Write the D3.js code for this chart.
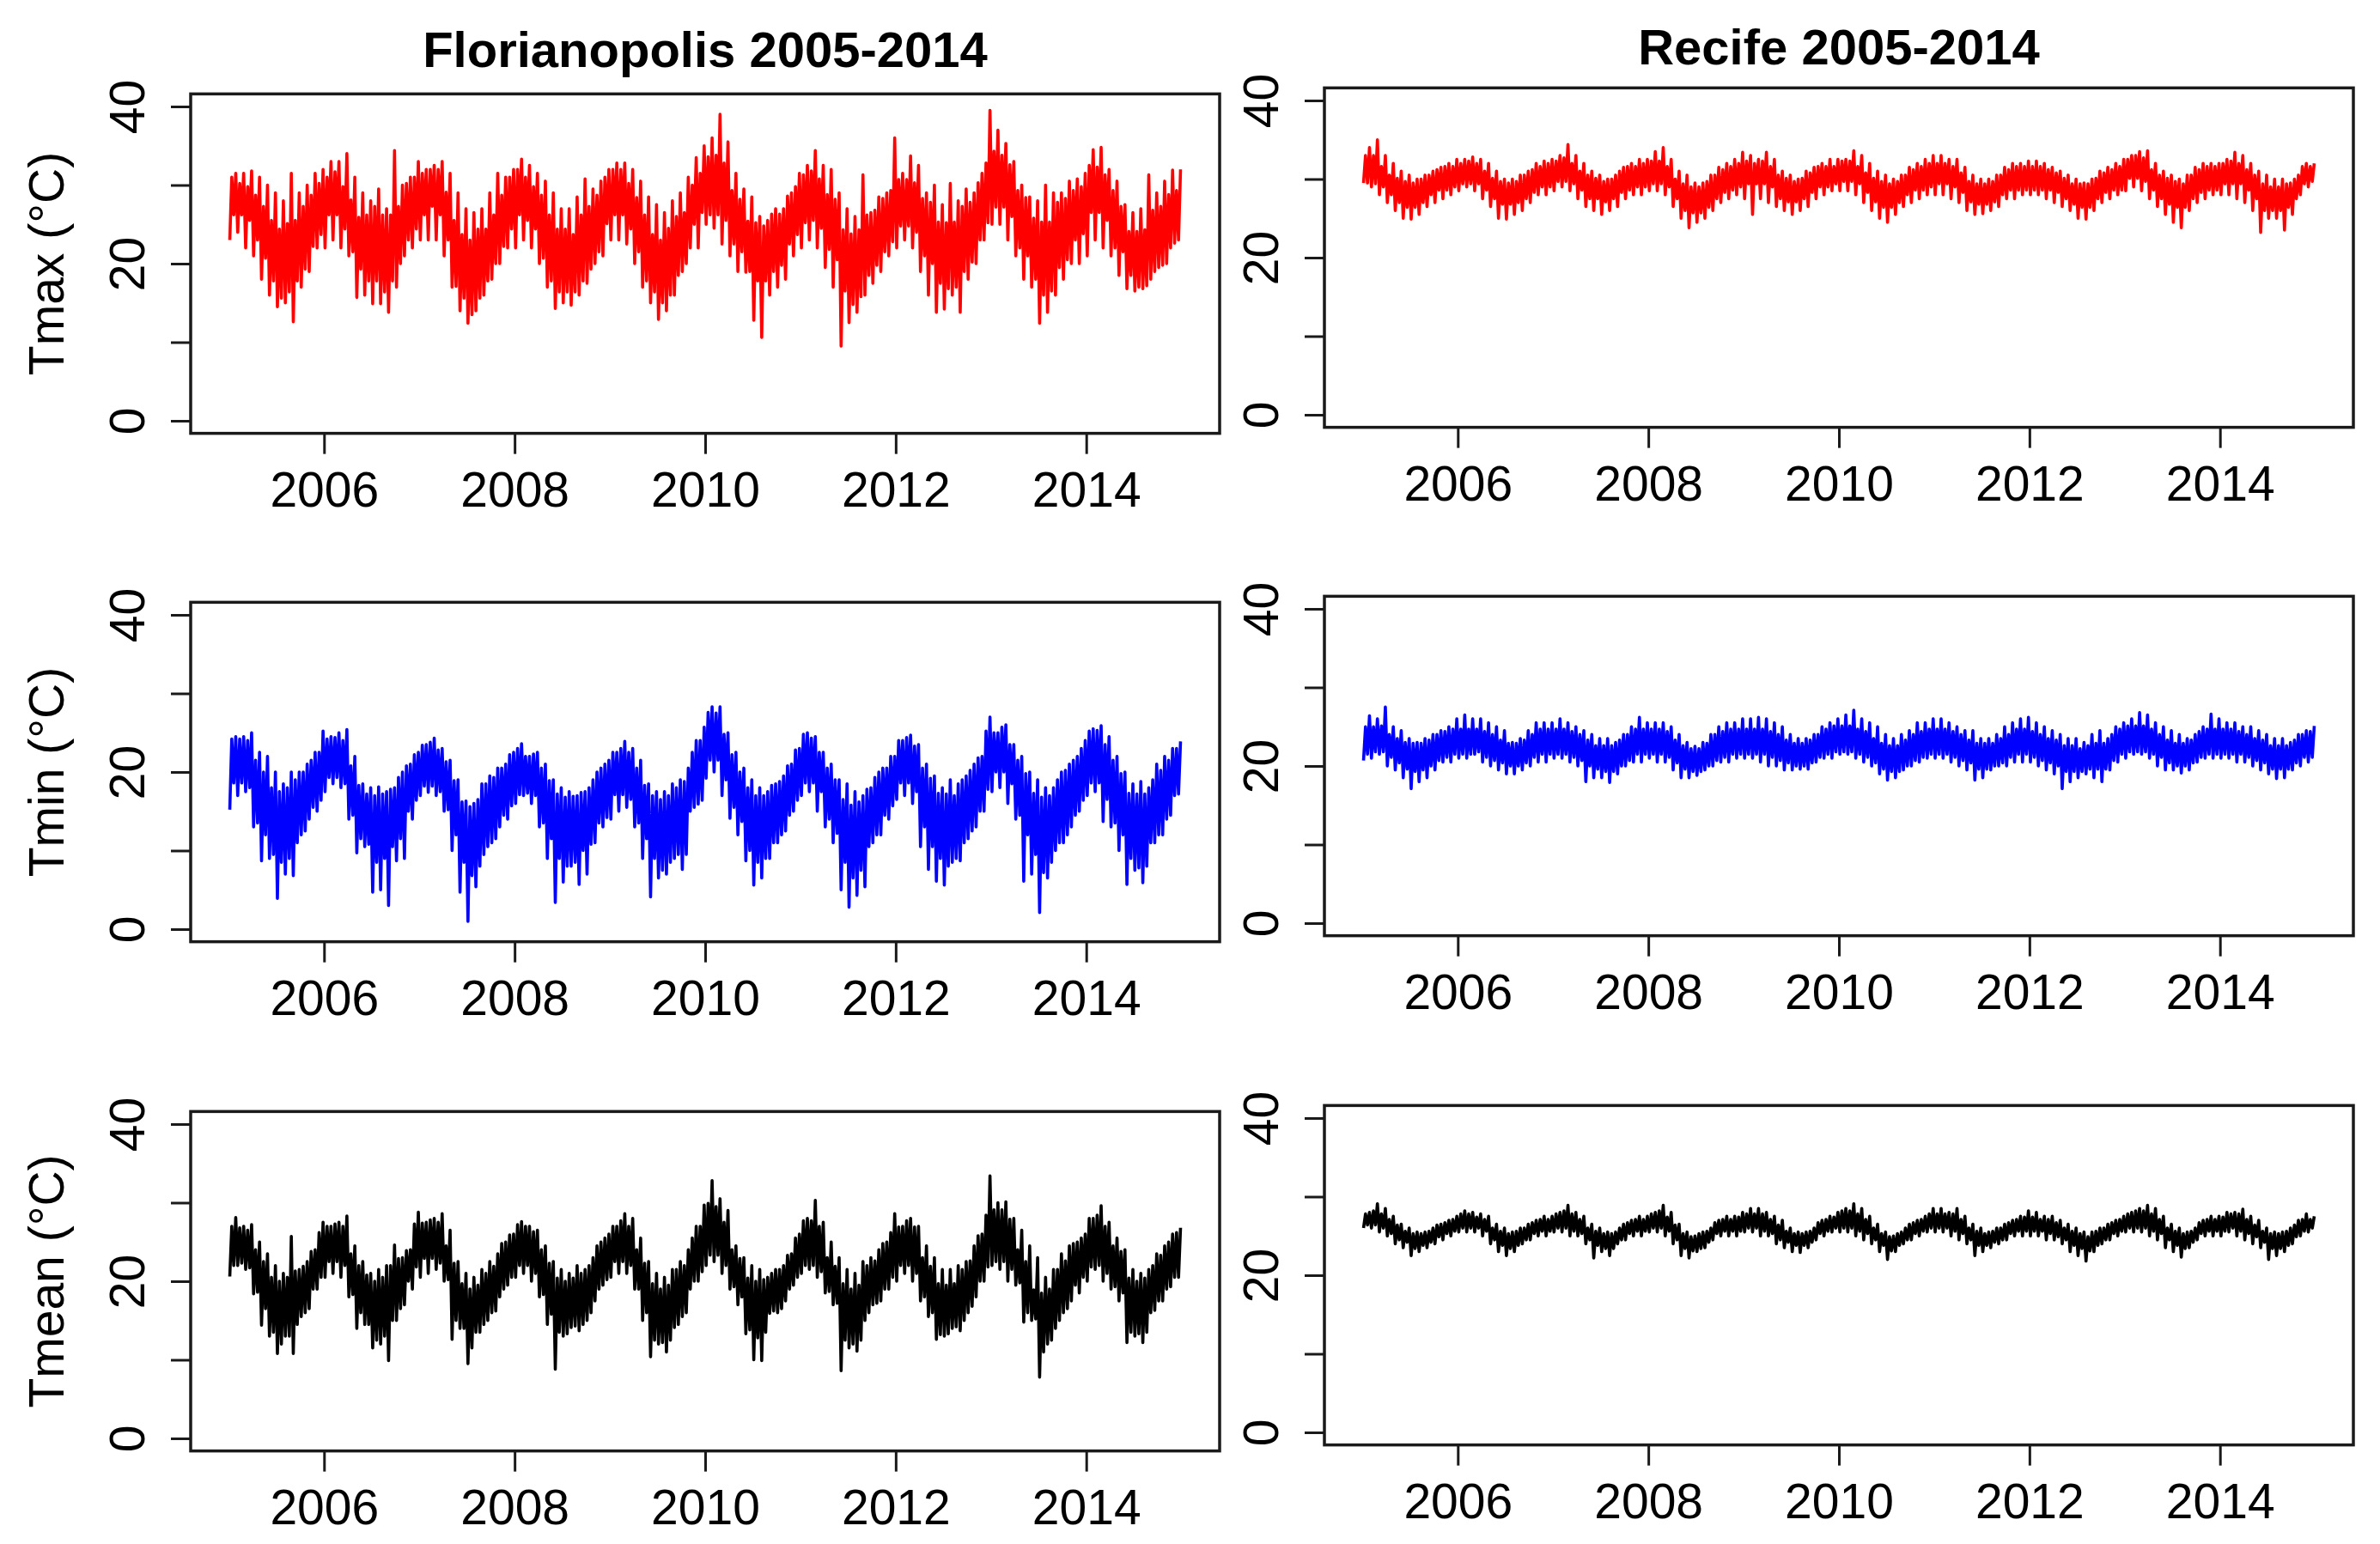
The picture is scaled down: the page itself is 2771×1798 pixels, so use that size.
<!DOCTYPE html>
<html>
<head>
<meta charset="utf-8">
<script src="https://cdn.jsdelivr.net/npm/d3@7"></script>
<style>
    body { margin: 0; background: #fff; }
    svg text { font-family: "Liberation Sans", Arial, sans-serif; fill: #000; }
</style>
</head>
<body>
<svg id="chart" width="2771" height="1798"></svg>
<script>
// Daily series summarised per month (°C), Jan 2005 .. Dec 2014, one year per line.
// Lo / Hi = extreme days of the month, CoreLo / CoreHi = edges of the dense band.

// Florianopolis Tmax
var flnTmaxLo = [
    23, 24, 22, 21, 18, 16, 14.5, 15, 12.6, 17, 19, 22,
    22, 23, 22, 21, 15.7, 16, 14.9, 14.9, 13.8, 17, 21, 22,
    23, 23, 23, 21, 17, 14, 12.4, 14, 16, 18, 20, 22,
    22, 23, 22, 20, 17, 14.3, 15, 14.7, 16, 17.5, 20, 21,
    23, 23, 22.5, 20, 17, 15, 12.9, 14, 16, 19, 22, 22,
    25, 24.5, 22.5, 21, 19, 18.9, 12.8, 10.6, 16, 17, 18, 21,
    22, 23, 22, 19.5, 17, 9.5, 12.5, 13.8, 16, 17.5, 19, 21,
    22, 23, 22, 19, 16, 13.8, 14.2, 16, 13.8, 18, 20, 23,
    25, 25, 23, 21, 18, 17, 12.4, 13.8, 16, 18, 20, 20,
    21, 23, 22, 21, 18.5, 16.8, 16.5, 16.8, 18, 19.5, 20, 22.6
];
var flnTmaxHi = [
    31.5, 31.5, 31.8, 31, 30, 29, 28, 31.5, 29, 30, 31.5, 32,
    33, 33, 34, 31, 29, 28, 29.5, 27, 34.4, 30, 31, 33,
    32, 32.5, 33, 31.5, 29, 27, 26.5, 27, 29, 31.5, 31, 32,
    33.3, 32.5, 31.5, 30.5, 29, 27, 27, 28.5, 30.8, 29.5, 30.5, 32,
    32.8, 32.8, 32, 30.5, 28.5, 27.5, 26.5, 28, 29, 31, 33.5, 35,
    36, 39, 35.5, 31.5, 29.5, 28.5, 26, 25.5, 27, 27, 29, 31.5,
    32.5, 34.4, 32.5, 32, 29, 27, 26, 31.3, 26.5, 28.5, 29, 36,
    31.5, 33.7, 32.5, 29, 30, 27.5, 30.2, 28, 29.5, 29, 31.5, 39.5,
    37, 35.3, 33, 30, 28.5, 28, 30, 29, 29, 30.5, 30.8, 31.5,
    34.5, 34.8, 32, 30.5, 27.5, 26.5, 27, 31.3, 29, 30.5, 31.9, 32
];
var flnTmaxCoreLo = [
    26.2, 26.2, 25.5, 23, 20.7, 17.8, 15.6, 16.4, 17.8, 19.3, 22.2, 23.7,
    26.2, 26.2, 24.4, 21.5, 19.3, 17.8, 17.8, 16.4, 17.8, 20, 23, 24.4,
    26.2, 27.3, 26.2, 23, 17.1, 15.6, 13.5, 15.6, 17.8, 20, 22.2, 24.4,
    26.2, 25.5, 24.4, 20.7, 17.8, 16.4, 16.4, 16.4, 17.8, 19.3, 21.5, 25.1,
    26.2, 26.2, 24.4, 21.5, 17.8, 16.4, 15, 16, 18.5, 20, 25, 26.5,
    26.2, 26.2, 25.5, 22.5, 21.5, 19, 17.8, 17.8, 19, 19.8, 22.5, 23.7,
    25.2, 25.5, 24.5, 21.8, 20.5, 16.5, 14.8, 15.8, 18.5, 19.8, 21.5, 22.8,
    24.8, 24.8, 24, 21, 20, 17.5, 16.8, 17, 19, 20.2, 23, 25.2,
    27.2, 27.2, 26, 22, 21, 18, 16, 16.5, 19.5, 20.5, 23, 23.8,
    26.5, 26.5, 25.5, 22, 21.5, 18.5, 17, 17.2, 19, 19.8, 22, 23
];
var flnTmaxCoreHi = [
    31, 30.2, 29.8, 28.7, 27.3, 25.5, 24.4, 25.1, 25.5, 27.3, 28.7, 30.2,
    31, 31.7, 29.8, 28.1, 25.9, 26.2, 27.3, 26.2, 26.2, 27.3, 30.2, 31,
    31.5, 32, 32, 29.1, 25.5, 23.7, 23, 24.4, 24.4, 26.2, 28.7, 31,
    32, 31, 29.8, 28.7, 26.2, 24.4, 24.4, 23.7, 26.2, 27.3, 28.7, 31,
    32, 32, 30.2, 28.4, 26.2, 23.7, 23, 24.5, 26, 26.5, 30, 31.5,
    33.6, 33.8, 32.8, 29.3, 28.2, 25.4, 25.2, 24.8, 26.3, 26.3, 28.6, 29.8,
    31.3, 31.8, 30.8, 28.8, 28.2, 24.3, 23.8, 24.3, 26.2, 26.8, 28.3, 29.3,
    30.7, 30.7, 30.3, 28.3, 27.8, 25.3, 25.2, 25.3, 27.3, 27.8, 30.3, 32.8,
    34.3, 33.8, 32.6, 29.3, 28.4, 25.8, 25.3, 25.3, 27.8, 28.3, 29.3, 29.8,
    32.5, 32.3, 31.3, 29.3, 27.3, 24.1, 24.1, 24.3, 26.8, 27.3, 28.8, 29.3
];

// Florianopolis Tmin
var flnTminLo = [
    15.2, 17, 17.5, 13, 8.7, 9, 3.9, 7, 6.8, 12, 14, 15,
    17.5, 18.5, 18, 14, 9.7, 10.5, 4.7, 5, 3, 8.7, 9, 14,
    17, 17.4, 17, 15, 10, 4.7, 1, 5.4, 9.5, 11, 13, 14,
    16, 17, 16, 13, 9, 3.4, 6, 8, 5.7, 7, 11, 13,
    14, 15, 15.5, 13, 9, 4.1, 6.5, 7, 9, 7.6, 15, 15.9,
    19.2, 20, 17, 14.1, 12, 8.7, 5.6, 6.5, 9, 11, 12.5, 15,
    17, 17.5, 15, 13, 11, 5, 2.8, 4.3, 5.4, 11, 12, 14,
    16.5, 17, 16, 10.5, 7.6, 6.1, 5.6, 8.5, 8.7, 11.5, 13, 15,
    17.5, 18, 16, 14, 6.1, 7, 2.1, 6.5, 10, 11, 13, 15,
    17, 17.5, 13.7, 13, 10, 5.7, 7.5, 5.9, 11, 12, 14, 17
];
var flnTminHi = [
    24.5, 24.5, 25, 22.5, 22, 20, 18.5, 20, 20, 21, 22.5, 25.2,
    24.5, 25, 25.4, 22, 18.5, 18, 18.1, 17.5, 18, 20, 21, 22.5,
    23.5, 24.3, 23, 21.5, 19, 16.3, 16, 18.5, 19.5, 20.5, 21, 22.5,
    23.6, 22, 22.5, 21, 19, 18, 17.5, 17, 17.5, 19, 20.5, 21.5,
    22.5, 23.9, 23, 21.5, 18.5, 17.5, 17.5, 18.5, 19, 20.5, 24, 25.7,
    28.3, 28.3, 25, 22.5, 20.5, 19, 18, 17.5, 18.5, 19.5, 21, 23,
    25, 24.5, 22.5, 21, 19, 18.5, 17.5, 17, 18, 20, 20.5, 22,
    24, 24.7, 23.5, 21, 19.5, 18, 19, 18.5, 19.5, 21, 22, 27,
    25, 26, 23.5, 22, 20, 19, 18, 18, 20, 21, 22, 24,
    25.5, 25.9, 24.5, 22, 20, 18.5, 18.8, 18, 21, 22, 23, 23.9
];
var flnTminCoreLo = [
    18.6, 18.6, 18, 13.5, 12, 9.5, 8.5, 9, 11, 12.5, 15.5, 16.4,
    19.3, 19.3, 18.5, 14.5, 11.5, 10.8, 8.5, 9, 10.5, 11.5, 15, 16.4,
    18.2, 18.2, 17.5, 15.2, 12, 8.5, 6.8, 8, 10.5, 11.5, 14.5, 15.7,
    17.1, 17.3, 17, 13.5, 11.5, 9, 8, 8.5, 10, 10.8, 13.5, 14.2,
    17.1, 17.1, 16.5, 13.5, 11.5, 9, 7.5, 8.5, 9.5, 9.5, 15.5, 16.4,
    21.5, 21.5, 19, 15.5, 13.7, 10, 8.5, 9, 11, 12, 14.5, 16.4,
    18.6, 18.6, 17.5, 14, 12.2, 8.5, 6.5, 7.5, 10.5, 12, 14.5, 15.7,
    18.6, 18.6, 17.5, 13, 10.5, 9, 8, 9, 11, 12.5, 15, 17.8,
    20, 20, 18.5, 14.5, 12, 9.5, 7.2, 8.5, 11, 12, 14.5, 16.4,
    18.6, 18.6, 16.5, 13.5, 12, 9, 7.8, 8, 11, 12, 14.5, 17.2
];
var flnTminCoreHi = [
    24.2, 24.2, 24, 21.5, 20, 18, 17.5, 18, 19, 20, 21.5, 22.5,
    24.2, 24.4, 24, 20.8, 18.3, 17.2, 17, 17.2, 17.8, 19.3, 20.8, 22.2,
    23.4, 23.8, 22.8, 21.3, 18.9, 16.2, 15.6, 16.5, 18.5, 19.3, 20.5, 22.2,
    23, 22, 22.3, 20.5, 18.9, 17.2, 16.8, 16.9, 17.4, 18, 20, 21,
    22.5, 23, 22.5, 20.5, 18.3, 17, 16.5, 17, 18, 18.8, 22.5, 24,
    27.6, 27.5, 24.8, 22.2, 20, 18, 17, 17, 18.3, 18.8, 20.8, 22.8,
    24.8, 24.3, 22.5, 20.5, 19, 16.5, 15.8, 16.2, 17.8, 19.3, 20.5, 22,
    24, 24.4, 23.3, 20.5, 19.2, 17.3, 17.2, 17, 19, 20.2, 21.8, 25.2,
    25, 25.7, 23.5, 21.5, 19.8, 17.3, 16.8, 17, 19, 20.2, 21.5, 23,
    25.2, 25.3, 23.5, 21.5, 19.8, 17.3, 17.2, 17.2, 19, 20.2, 21.5, 23
];

// Florianopolis Tmean
var flnTmeanLo = [
    20.6, 22, 21.5, 18.4, 14.4, 13, 10.8, 13, 10.8, 15.5, 16.5, 19,
    20.5, 21, 20.5, 18, 14, 14.5, 11.5, 12, 9.9, 15, 17, 19,
    20.5, 21, 21.5, 20, 12.6, 14, 9.5, 13.5, 14.5, 16, 18, 19.5,
    20.5, 21, 20, 18, 14.5, 8.8, 13, 14.1, 13.7, 15, 17.5, 19.5,
    20.5, 21, 21, 19, 15, 10.4, 12, 11, 14.1, 15.5, 19, 20,
    22, 22.5, 21, 19, 17, 13.3, 10, 9.9, 15.9, 16, 17.5, 19.5,
    21, 21.5, 20.5, 18.5, 17, 8.6, 11.5, 11.1, 15, 17, 17.5, 19,
    20, 21, 20, 17.5, 15.5, 12.6, 13, 14, 13.7, 16, 18, 20,
    22, 21.5, 20, 19.5, 14.8, 15, 7.8, 12, 14, 16, 17.5, 18.5,
    20, 21.5, 20, 19, 17.5, 12.2, 13, 12.2, 16, 17.5, 19, 20.5
];
var flnTmeanHi = [
    28.1, 27, 27.2, 25, 23.5, 22, 21, 25.7, 21.5, 22.5, 24, 27.5,
    27, 27.5, 28.3, 24.5, 22.5, 21, 21.5, 22, 24.6, 23, 24, 28.8,
    27.5, 28, 28.6, 26.5, 22.5, 21, 20.5, 21.5, 22.5, 23.5, 25, 26,
    27.6, 27, 26.5, 24.5, 22.5, 21.5, 21, 22, 21.5, 23, 25, 26,
    27, 28.6, 28, 25.5, 22.5, 21, 20.5, 21.5, 22.5, 24, 27, 29.7,
    32.8, 30.5, 29, 24.5, 23, 22, 21.5, 20.5, 21.5, 22, 23.5, 26,
    28, 30.3, 27.5, 25, 23, 21.5, 21, 22.5, 23, 24, 25, 28.6,
    27, 28, 27, 24.5, 23, 21.5, 21.5, 22, 22.5, 24.5, 26, 33.4,
    30, 30.1, 28, 26.5, 24.5, 23, 20.5, 21.5, 23.5, 24.5, 25, 26,
    28, 29.6, 27.5, 25.5, 24, 21.5, 21, 21.5, 23.5, 24.5, 26, 26.8
];
var flnTmeanCoreLo = [
    22, 22.3, 21.7, 18.6, 16.5, 13.5, 12, 13, 14.5, 16, 19, 20.5,
    22.5, 22.5, 22, 18.3, 16, 14.5, 12.5, 13, 15, 16.5, 20, 21.8,
    22.9, 22.9, 22.3, 20.2, 15, 14, 11.5, 13.5, 15, 16.2, 19, 20.5,
    22, 22, 21, 18.3, 15.8, 13.5, 13.3, 14.3, 14.5, 16, 19, 20.2,
    22.5, 22.5, 22, 19, 16, 12.5, 12.2, 12.5, 14.5, 16, 20, 21.2,
    23.3, 23.3, 22, 19.3, 18, 13.8, 12.8, 13.5, 16.2, 16.5, 19, 20.5,
    22, 22, 21.2, 18.7, 17.2, 12.5, 12, 12.5, 16, 17.2, 19, 20.5,
    22, 22, 21, 18, 16, 13.2, 13.3, 14.2, 15, 16.8, 20, 21.8,
    22.5, 22.5, 21.5, 19.8, 16, 15.2, 11, 12.5, 15, 16.5, 19.5, 20.5,
    21.8, 22, 21, 19.3, 18.5, 13.5, 13.3, 13.5, 16.3, 17.5, 19.3, 20.5
];
var flnTmeanCoreHi = [
    27, 26.8, 26.5, 24, 22.5, 20.5, 20, 20.5, 21.3, 21.9, 23.8, 26.2,
    27, 27.3, 27, 23.5, 22, 20.8, 20, 20.5, 22, 22.9, 23.9, 27.3,
    27.4, 27.8, 27.5, 24.5, 22.3, 19.7, 19, 19.5, 21, 21.9, 24.8, 25.9,
    27.2, 27, 26.3, 24, 22.3, 20.4, 20, 20.4, 21, 22, 24.5, 25.5,
    27, 27.7, 27, 24, 22.3, 19.7, 19, 19.5, 21.5, 22, 25.5, 27,
    29.9, 29.5, 27.5, 24, 22.9, 20.4, 20, 20.2, 21, 21.5, 23.3, 25.5,
    27.7, 27.7, 27, 23, 21.9, 19.7, 19, 19.5, 22, 22.6, 24.8, 26.2,
    26.9, 27.7, 26.9, 23, 21.9, 19.7, 19.5, 19.7, 21.5, 22.6, 25.8, 28.4,
    29.1, 29.1, 27.9, 24, 22.5, 18.9, 18.5, 19, 21.5, 22.6, 24.8, 25.5,
    28, 28.4, 27, 24.5, 23.8, 20.4, 20, 20.4, 22, 23.3, 25, 26.2
];

// Recife Tmax
var rcfTmaxLo = [
    29.5, 29, 28, 27, 26, 25, 24.9, 25.5, 26.5, 27, 27.5, 28,
    28.5, 29, 28.5, 27.5, 26.5, 25, 24.9, 25.5, 26, 27, 28, 28,
    28.5, 29, 28.5, 27.5, 26.5, 26, 25.5, 26, 26.5, 27.5, 28, 28,
    28.5, 28.5, 28, 26.5, 25, 23.8, 24.5, 25, 26, 27, 27.5, 28,
    27.5, 25.5, 27.5, 27, 26.5, 26, 25.5, 26, 26.5, 27.5, 28, 28.5,
    28.5, 28.5, 28, 27, 26, 25, 24.5, 25.5, 26.5, 27, 27.5, 28,
    28, 28, 27.5, 27, 26, 25.5, 25.6, 26, 26.5, 27.5, 27.5, 28,
    28, 28, 27.5, 27, 26.5, 26, 25, 24.9, 26, 27, 27.5, 28,
    28.5, 29, 28.5, 27.5, 26.5, 25.5, 24.5, 23.8, 26, 27, 27.5, 28,
    28, 28, 27.5, 27, 26, 23.2, 25, 25, 23.5, 25.5, 28, 29
];
var rcfTmaxHi = [
    34, 35, 33, 32, 31, 30.5, 30, 30.5, 31, 31.5, 32, 32.5,
    32.5, 32.8, 32.5, 32, 31, 30, 30, 30.5, 31, 32, 32.3, 32.5,
    33, 34.4, 33, 32, 31, 30.5, 30, 30.5, 31.5, 32, 32.5, 32.5,
    33.5, 34, 32.5, 31, 30.5, 29.5, 29.5, 30.5, 31.5, 32, 32.5, 33.4,
    33, 32.5, 33.4, 32.5, 31, 30.5, 30, 31, 31.5, 32, 32.5, 32.5,
    32.5, 33.6, 33, 32, 31, 30.5, 30, 30.5, 31.5, 32, 32.5, 33,
    33, 32.5, 32.5, 31.5, 30.5, 30, 30, 30.5, 31.5, 32, 32, 32.3,
    32.3, 32, 31.5, 31, 30.5, 30, 29.5, 30, 31, 31.5, 32, 32.5,
    33, 33.5, 33.6, 32, 31, 30.5, 30, 30.5, 31.5, 32, 32, 32,
    32.5, 33.4, 33, 32, 31, 30.5, 30, 30, 29.5, 30.5, 32, 32
];
var rcfTmaxCoreLo = [
    29.5, 29.4, 29, 28, 27, 26.4, 26.4, 27, 28, 28.6, 28.6, 29,
    29.4, 29.4, 29.4, 28.6, 27.5, 26.8, 26.8, 27, 27.5, 28.3, 29, 29,
    29.7, 29.7, 29.4, 28.6, 27.5, 27.5, 27.1, 27.5, 28.3, 28.6, 29, 29,
    29.4, 29.4, 29, 27.5, 26, 25.7, 25.7, 26.4, 27.5, 28.3, 28.6, 29,
    29.4, 29.4, 29.4, 29, 27.5, 27.1, 27.1, 27.5, 28.3, 29, 29, 29.4,
    29.7, 29.7, 29.4, 28.3, 27.1, 26.4, 26.4, 27, 28, 28.6, 28.6, 29,
    29.4, 29.4, 29, 28.3, 27.1, 26.8, 26.8, 27.1, 28, 28.6, 28.6, 28.6,
    28.6, 28.6, 28.6, 28.3, 27.5, 26.8, 26.4, 26.4, 27.5, 28.3, 28.6, 28.6,
    30.1, 30.1, 29.7, 28.6, 27.5, 26.8, 26.4, 26.4, 27.5, 28.3, 28.6, 28.6,
    29.4, 29.4, 29.4, 28.6, 27.5, 26, 26, 26, 26.4, 27.5, 29.4, 29.7
];
var rcfTmaxCoreHi = [
    33, 33, 31.6, 30.5, 30.1, 29.7, 29.5, 30, 30.5, 31.2, 31.6, 31.6,
    32, 32.3, 32, 31, 30.1, 29.7, 29.5, 29.7, 30.5, 31.2, 31.6, 32,
    32.3, 32.7, 32, 31, 30.5, 30.1, 29.7, 30, 31, 31.6, 31.6, 32,
    32.3, 32.3, 31.6, 30, 29.4, 29, 29, 29.7, 30.5, 31.2, 31.6, 32,
    32.3, 32, 32.3, 31.6, 30.5, 30.1, 29.7, 30.1, 30.8, 31.6, 31.6, 31.6,
    32.3, 32.3, 31.6, 30.8, 30.1, 29.7, 29.4, 29.7, 30.5, 31.2, 31.6, 32,
    32, 32, 31.6, 30.8, 29.7, 29.4, 29.4, 29.7, 30.5, 31.2, 31.6, 31.6,
    31.6, 31.6, 31.2, 30.8, 30.1, 29.4, 29.4, 29.4, 30.1, 30.8, 31.2, 31.6,
    32.5, 33, 32.7, 31.2, 30.5, 30.1, 29.7, 29.4, 30.5, 31.2, 31.6, 31.6,
    32, 32.3, 32, 31.2, 30.5, 29.4, 29, 29, 29.4, 30, 31.6, 31.6
];

// Recife Tmin
var rcfTminLo = [
    20.7, 21, 21.5, 20, 19.5, 18.5, 17.1, 18, 18.5, 19.5, 20.5, 20.5,
    21, 21, 21.5, 20.5, 20, 19.5, 19, 19, 19.5, 20, 20.5, 20.5,
    21, 21, 20.5, 20, 18, 18.5, 18.5, 17.9, 19, 20, 20.5, 20.5,
    21, 20.5, 20.5, 19.5, 18.5, 18.5, 18.8, 19.5, 20, 20.5, 20.5, 21,
    21, 21, 20.5, 20, 20, 19.5, 19.5, 19.6, 19.6, 20.5, 21, 21,
    21.5, 21.5, 21, 20.5, 20, 19, 18.2, 18.5, 19.5, 20, 20.5, 21,
    21, 21, 20.5, 20, 19.5, 18.2, 18.5, 19.5, 20, 20, 20.5, 20.5,
    20.5, 20, 19.5, 19, 17.1, 18, 18.5, 19, 18.5, 18, 19.5, 20.5,
    21, 21.5, 21.5, 21, 20, 19.5, 19.5, 19.1, 19.5, 20.5, 21, 21,
    21, 21, 20.5, 20.5, 20, 19.5, 19, 18.4, 18.5, 19.5, 20, 20.5
];
var rcfTminHi = [
    26.4, 26, 27.5, 25, 24.5, 23.5, 23, 23.5, 24, 24.5, 25, 26,
    26.5, 26, 26, 25.5, 25, 24.5, 23, 23.5, 24.5, 25.5, 25.5, 25.5,
    26, 25.5, 25, 24.5, 24, 23.5, 23.5, 23, 24, 25, 26.2, 25.5,
    25.5, 25.5, 25, 24, 23, 22.5, 23, 24, 25, 25.5, 25.5, 26,
    26, 26.2, 26, 25.5, 25, 24, 23.5, 23.5, 24, 25, 25.5, 26,
    26.5, 27.1, 26, 25.5, 25, 24, 23.5, 24, 24.5, 25.5, 25.5, 26,
    26, 25.5, 25, 24.5, 24.5, 23.5, 23.5, 24, 25, 25.5, 26, 26.2,
    25.5, 25, 24.5, 24, 23.5, 23.5, 23, 24, 24.5, 23.5, 25, 25.5,
    26, 26.8, 26.5, 25.5, 25, 24.5, 24, 23.5, 24, 25, 26.6, 26,
    25.5, 25.5, 25, 25, 24.5, 24, 23.5, 23.5, 23, 24, 24.5, 25.1
];
var rcfTminCoreLo = [
    21.5, 21.8, 21.8, 21.1, 20.4, 19.6, 19.3, 19.5, 20, 20.7, 21.1, 21.5,
    21.5, 21.5, 21.8, 21.1, 20.7, 20.4, 20, 20, 20.4, 21.1, 21.5, 21.5,
    21.5, 21.5, 21.1, 20.7, 20, 19.6, 19.3, 19.3, 20, 20.7, 21.5, 21.5,
    21.5, 21.5, 21.1, 20.4, 19.6, 19.3, 19.3, 20, 20.7, 21.1, 21.5, 21.5,
    21.5, 21.5, 21.5, 21.1, 20.7, 20.4, 20, 20, 20.4, 21.1, 21.5, 21.8,
    21.8, 21.8, 21.5, 21.1, 20.4, 19.6, 19.3, 19.3, 20, 20.7, 21.1, 21.5,
    21.5, 21.5, 21.1, 20.7, 20.4, 19.6, 19.6, 20, 20.4, 21.1, 21.5, 21.5,
    21.1, 20.7, 20.4, 20, 19.3, 19.3, 19.3, 19.6, 19.6, 19.6, 20.7, 21.5,
    21.8, 21.8, 21.8, 21.5, 21.1, 20.4, 20, 20, 20.4, 21.1, 21.5, 21.5,
    21.5, 21.5, 21.5, 21.1, 20.7, 20.4, 19.6, 19.6, 19.6, 20.4, 21.1, 21.1
];
var rcfTminCoreHi = [
    25, 25, 25.1, 24, 23.5, 23, 22.9, 22.9, 23.3, 24, 24.4, 24.7,
    24.7, 24.7, 24.7, 24.4, 24, 23.3, 22.9, 22.9, 23.3, 24, 24.7, 24.7,
    24.7, 24.7, 24.4, 24, 23.3, 22.6, 22.6, 22.6, 23.3, 24, 24.7, 24.7,
    24.7, 24.7, 24.4, 23.3, 22.6, 22.2, 22.2, 22.9, 24, 24.4, 24.7, 24.7,
    24.7, 24.7, 24.7, 24.4, 24, 23.3, 22.9, 22.9, 23.3, 24, 24.7, 25.1,
    25.1, 25.1, 24.7, 24.4, 23.5, 22.9, 22.6, 22.6, 23.3, 24, 24.4, 24.7,
    24.7, 24.7, 24.4, 24, 23.3, 22.9, 22.9, 22.9, 23.5, 24, 24.7, 24.7,
    24.4, 24, 23.5, 23.3, 22.6, 22.6, 22.2, 22.6, 22.9, 22.9, 24, 24.7,
    25.1, 25.1, 25.1, 24.7, 24, 23.3, 22.9, 22.9, 23.3, 24.4, 24.7, 24.7,
    24.7, 24.7, 24.4, 24, 23.5, 23.3, 22.6, 22.6, 22.6, 23.3, 24, 24.4
];

// Recife Tmean
var rcfTmeanLo = [
    26, 26, 25.5, 25, 24, 23.5, 22.5, 23, 23.5, 24, 24.5, 25,
    25.5, 25.5, 25.5, 25, 24, 23, 22.5, 23, 24, 24.5, 25, 25,
    25.5, 25.5, 25, 25, 24, 22.2, 23, 22.5, 24, 24.5, 25, 25,
    25.5, 25.5, 25, 24, 22.5, 22.2, 23, 23.5, 24.5, 25, 25, 25,
    25.5, 25.5, 25, 25, 24, 23.5, 23, 22.9, 23.5, 24.5, 25, 25.5,
    25.5, 25.5, 25, 24.5, 24, 23, 22, 23, 24, 24.5, 25, 25.5,
    25.5, 25.5, 25, 24.5, 24, 22.5, 23, 23.5, 24, 24.5, 25, 25,
    25, 25, 24.5, 24.5, 24, 23, 22.5, 21.8, 23, 24, 24.5, 25,
    25.5, 25.5, 25.5, 25, 24.5, 23.5, 23, 22.3, 23.5, 24.5, 25, 25,
    25, 25.5, 25, 24.5, 24, 23.5, 22, 22.5, 23, 24, 25, 25.5
];
var rcfTmeanHi = [
    28, 29.1, 28.5, 27.5, 26.5, 26, 25.5, 25.5, 26, 26.5, 27, 27.5,
    28.2, 28, 27.8, 27.5, 26.5, 26, 25.5, 26, 26.5, 27, 27.5, 27.5,
    28, 28.9, 28, 27.5, 26.5, 26, 25.5, 25.5, 26.5, 27, 27.5, 27.5,
    28, 28.9, 28, 26.5, 25.5, 25, 25.5, 26, 27, 27.5, 27.5, 28,
    28.5, 28.5, 28, 27.5, 27, 26, 25.5, 25.5, 26, 27, 27.5, 28,
    28.5, 29.1, 28.5, 27.5, 26.5, 25.5, 25, 25.5, 26.5, 27, 27.5, 28.5,
    28.5, 28, 28.5, 27.5, 26.5, 26, 25.5, 26, 26.5, 27, 27.5, 28.2,
    28, 27.5, 27.5, 27, 26.5, 26, 25.5, 25.5, 26, 26.5, 27, 27.5,
    28, 28.5, 28.9, 28.5, 27.5, 26.5, 26, 25.5, 26, 27, 27.5, 27.5,
    28, 28, 28.4, 27.5, 27, 26, 25.5, 25.5, 26, 27, 27.8, 27.5
];
var rcfTmeanCoreLo = [
    26.4, 26.4, 26, 25.3, 24.5, 24.2, 23.4, 23.8, 24.2, 24.9, 25.3, 25.6,
    26, 26, 26, 25.6, 24.5, 23.8, 23.4, 23.8, 24.5, 25.3, 25.6, 25.6,
    26, 26, 25.6, 25.3, 24.5, 23.8, 23.4, 23.4, 24.5, 25.3, 25.6, 25.6,
    26, 26, 25.6, 24.5, 23.4, 23.1, 23.4, 24.2, 25.3, 25.6, 25.6, 25.6,
    26, 26, 25.6, 25.3, 24.5, 24.2, 23.8, 23.8, 24.2, 25.3, 25.6, 26,
    26, 26, 25.6, 25.3, 24.5, 23.8, 23.1, 23.8, 24.5, 25.3, 25.6, 26,
    26, 26, 25.6, 25.3, 24.5, 23.8, 23.8, 24.2, 24.5, 25.3, 25.6, 25.6,
    25.6, 25.6, 25.3, 24.9, 24.5, 23.8, 23.4, 23.1, 23.8, 24.5, 25.3, 25.6,
    26, 26, 26, 25.6, 25.3, 24.5, 23.8, 23.4, 24.2, 25.3, 25.6, 25.6,
    25.6, 26, 25.6, 25.3, 24.9, 24.2, 23.4, 23.4, 23.8, 24.9, 25.6, 26
];
var rcfTmeanCoreHi = [
    27.8, 28.2, 27.8, 27.1, 26.4, 25.6, 25.3, 25.3, 25.6, 26.4, 26.7, 27.1,
    27.8, 27.8, 27.4, 27.1, 26, 25.6, 25.3, 25.6, 26, 26.7, 27.1, 27.1,
    27.8, 28.2, 27.8, 27.1, 26, 25.6, 25.3, 25.3, 26, 26.7, 27.1, 27.1,
    27.8, 28.2, 27.4, 26.4, 25.3, 24.9, 25.3, 25.6, 26.7, 27.1, 27.1, 27.4,
    27.8, 27.8, 27.8, 27.1, 26.4, 25.6, 25.3, 25.3, 25.6, 26.7, 27.1, 27.4,
    28.2, 28.2, 27.8, 27.1, 26, 25.3, 24.9, 25.3, 26, 26.7, 27.1, 27.8,
    27.8, 27.8, 27.8, 27.1, 26, 25.6, 25.3, 25.6, 26, 26.7, 27.1, 27.4,
    27.4, 27.1, 27.1, 26.7, 26, 25.6, 25.3, 24.9, 25.6, 26, 26.7, 27.1,
    27.8, 28.2, 28.2, 27.8, 27.1, 26, 25.6, 25.3, 25.6, 26.7, 27.1, 27.1,
    27.4, 27.8, 27.8, 27.1, 26.4, 25.6, 25.3, 25.3, 25.6, 26.4, 27.1, 27.1
];

var startYear = 2005;
var yearTicks = [2006, 2008, 2010, 2012, 2014];
var tempTicks = [0, 10, 20, 30, 40];
var tempLabels = [0, 20, 40];
var cityTitles = ["Florianopolis 2005-2014", "Recife 2005-2014"];
var rowTitles = ["Tmax (°C)", "Tmin (°C)", "Tmean (°C)"];
var rowColors = ["#ff0000", "#0000ff", "#000000"];

var panels = [
    { col: 0, row: 0, lo: flnTmaxLo, hi: flnTmaxHi, cLo: flnTmaxCoreLo, cHi: flnTmaxCoreHi },
    { col: 0, row: 1, lo: flnTminLo, hi: flnTminHi, cLo: flnTminCoreLo, cHi: flnTminCoreHi },
    { col: 0, row: 2, lo: flnTmeanLo, hi: flnTmeanHi, cLo: flnTmeanCoreLo, cHi: flnTmeanCoreHi },
    { col: 1, row: 0, lo: rcfTmaxLo, hi: rcfTmaxHi, cLo: rcfTmaxCoreLo, cHi: rcfTmaxCoreHi },
    { col: 1, row: 1, lo: rcfTminLo, hi: rcfTminHi, cLo: rcfTminCoreLo, cHi: rcfTminCoreHi },
    { col: 1, row: 2, lo: rcfTmeanLo, hi: rcfTmeanHi, cLo: rcfTmeanCoreLo, cHi: rcfTmeanCoreHi }
];

// layout (R style: ranges padded 4%)
var colRange = [[222, 1420], [1542, 2740]];
var zeroY = [[490, 1082, 1675], [483, 1075, 1668]];
var pxPerDeg = 9.15;
var titleY = [78, 75];
var fontFamily = '"Liberation Sans", Arial, sans-serif';
var axisColor = "#1a1a1a";

var svg = d3.select("#chart");
svg.append("rect").attr("width", 2771).attr("height", 1798).attr("fill", "#fff");

// four samples a month: extreme low, top of band, bottom of band, extreme high
function toPoints(p) {
    var pts = [];
    p.lo.forEach(function (v, m) {
        var t0 = startYear + m / 12;
        pts.push({ t: t0 + 0.125 / 12, v: v });
        pts.push({ t: t0 + 0.375 / 12, v: p.cHi[m] });
        pts.push({ t: t0 + 0.625 / 12, v: p.cLo[m] });
        pts.push({ t: t0 + 0.875 / 12, v: p.hi[m] });
    });
    return pts;
}

panels.forEach(function (p) {
    var x = d3.scaleLinear().domain([2004.6, 2015.4]).range(colRange[p.col]);
    var z = zeroY[p.col][p.row];
    var y = d3.scaleLinear().domain([-1.6, 41.6])
        .range([z + 1.6 * pxPerDeg, z - 41.6 * pxPerDeg]);
    var g = svg.append("g");

    var line = d3.line()
        .x(function (d) { return x(d.t); })
        .y(function (d) { return y(d.v); });

    g.append("path")
        .datum(toPoints(p))
        .attr("d", line)
        .attr("fill", "none")
        .attr("stroke", rowColors[p.row])
        .attr("stroke-width", 3.6)
        .attr("stroke-linejoin", "round");

    // y axis, labels parallel to the axis like R's default
    var yAxis = g.append("g")
        .attr("transform", "translate(" + x.range()[0] + ",0)")
        .call(d3.axisLeft(y).tickValues(tempTicks).tickSize(23)
            .tickFormat(function (d) { return tempLabels.indexOf(d) >= 0 ? d : ""; }));
    yAxis.select(".domain").remove();
    yAxis.attr("color", axisColor).attr("font-size", 57).attr("font-family", fontFamily);
    yAxis.selectAll("line").attr("stroke-width", 3);
    yAxis.selectAll("text")
        .attr("transform", "rotate(-90)")
        .attr("x", 0).attr("y", -54).attr("dy", 0)
        .attr("text-anchor", "middle")
        .attr("fill", "#000");

    var xAxis = g.append("g")
        .attr("transform", "translate(0," + y.range()[0] + ")")
        .call(d3.axisBottom(x).tickValues(yearTicks).tickSize(24).tickFormat(d3.format("d")));
    xAxis.select(".domain").remove();
    xAxis.attr("color", axisColor).attr("font-size", 57).attr("font-family", fontFamily);
    xAxis.selectAll("line").attr("stroke-width", 3);
    xAxis.selectAll("text").attr("y", 85).attr("dy", 0).attr("fill", "#000");

    g.append("rect")
        .attr("x", x.range()[0]).attr("y", y.range()[1])
        .attr("width", x.range()[1] - x.range()[0])
        .attr("height", y.range()[0] - y.range()[1])
        .attr("fill", "none")
        .attr("stroke", axisColor)
        .attr("stroke-width", 3.5);

    var cx = (x.range()[0] + x.range()[1]) / 2;
    var cy = (y.range()[0] + y.range()[1]) / 2;

    if (p.row === 0) {
        g.append("text")
            .attr("x", cx).attr("y", titleY[p.col])
            .attr("text-anchor", "middle")
            .attr("font-size", 58).attr("font-weight", "bold")
            .text(cityTitles[p.col]);
    }
    if (p.col === 0) {
        g.append("text")
            .attr("transform", "translate(74," + cy + ") rotate(-90)")
            .attr("text-anchor", "middle")
            .attr("font-size", 57)
            .text(rowTitles[p.row]);
    }
});
</script>
</body>
</html>
